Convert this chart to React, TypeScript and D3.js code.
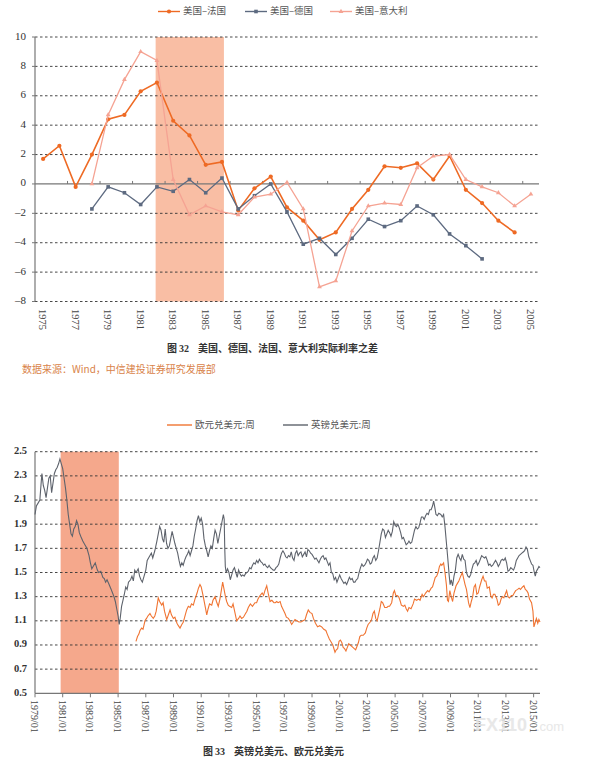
import React from 'react';
import * as d3 from 'd3';

// ---- figure 32: real rate differentials (annual) ----
const years = d3.range(1975, 2006);
const yearLabels = d3.range(1975, 2006, 2);
const rateTicks = [10, 8, 6, 4, 2, 0, -2, -4, -6, -8];

const usFrance = [1.7, 2.6, -0.2, 2.0, 4.4, 4.7, 6.3, 6.9, 4.3, 3.3, 1.3, 1.5, -1.8, -0.3, 0.5, -1.6,
  -2.5, -3.8, -3.3, -1.7, -0.4, 1.2, 1.1, 1.4, 0.3, 1.9, -0.4, -1.3, -2.5, -3.3, null];
const usGermany = [null, null, null, -1.7, -0.2, -0.6, -1.4, -0.2, -0.5, 0.3, -0.6, 0.4, -1.7, -0.8, 0.0,
  -1.9, -4.1, -3.7, -4.8, -3.7, -2.4, -2.9, -2.5, -1.5, -2.1, -3.4, -4.2, -5.1, null, null, null];
const usItaly = [null, null, null, 0.0, 4.7, 7.1, 9.0, 8.4, 0.3, -2.1, -1.5, -1.9, -2.1, -0.9, -0.7,
  0.1, -1.7, -7.0, -6.6, -3.2, -1.5, -1.3, -1.4, 1.1, 1.9, 2.0, 0.3, -0.2, -0.6, -1.5, -0.7];
const shade32 = [1982, 1986];

// ---- figure 33: GBP/USD and EUR/USD (weekly) ----
const fxTicks = [2.5, 2.3, 2.1, 1.9, 1.7, 1.5, 1.3, 1.1, 0.9, 0.7, 0.5];
const fxDateLabels = d3.range(1979, 2016, 2).map(y => `${y}/01`);
const shade33 = [1980.85, 1985.05];

const gbpUsd: [number, number][] = [
  [1979.0, 1.98], [1979.1, 2.05], [1979.2, 2.07], [1979.35, 2.1], [1979.45, 2.25], [1979.5, 2.32], [1979.6, 2.22],
  [1979.7, 2.18], [1979.8, 2.12], [1979.9, 2.2], [1980.0, 2.28], [1980.1, 2.3], [1980.2, 2.16], [1980.3, 2.24],
  [1980.4, 2.32], [1980.5, 2.35], [1980.6, 2.37], [1980.7, 2.4], [1980.8, 2.44], [1980.9, 2.4], [1981.0, 2.36],
  [1981.1, 2.28], [1981.2, 2.2], [1981.3, 2.1], [1981.4, 1.98], [1981.5, 1.9], [1981.6, 1.82], [1981.7, 1.8],
  [1981.8, 1.86], [1981.9, 1.88], [1982.0, 1.93], [1982.1, 1.9], [1982.2, 1.83], [1982.3, 1.8], [1982.45, 1.76],
  [1982.6, 1.73], [1982.75, 1.7], [1982.9, 1.64], [1983.0, 1.58], [1983.1, 1.53], [1983.25, 1.56], [1983.35, 1.58],
  [1983.5, 1.52], [1983.6, 1.5], [1983.75, 1.51], [1983.9, 1.46], [1984.0, 1.45], [1984.1, 1.42], [1984.2, 1.44],
  [1984.35, 1.4], [1984.5, 1.36], [1984.6, 1.33], [1984.7, 1.3], [1984.8, 1.26], [1984.9, 1.2], [1985.0, 1.14],
  [1985.08, 1.07], [1985.15, 1.12], [1985.25, 1.22], [1985.35, 1.27], [1985.45, 1.32], [1985.55, 1.38],
  [1985.65, 1.36], [1985.75, 1.42], [1985.9, 1.44], [1986.0, 1.47], [1986.1, 1.43], [1986.2, 1.52], [1986.3, 1.5],
  [1986.45, 1.53], [1986.55, 1.47], [1986.65, 1.44], [1986.75, 1.42], [1986.85, 1.46], [1987.0, 1.52],
  [1987.1, 1.6], [1987.25, 1.63], [1987.4, 1.66], [1987.5, 1.62], [1987.65, 1.68], [1987.8, 1.76], [1987.9, 1.82],
  [1988.0, 1.88], [1988.1, 1.85], [1988.2, 1.78], [1988.3, 1.75], [1988.4, 1.86], [1988.5, 1.74], [1988.6, 1.7],
  [1988.7, 1.72], [1988.8, 1.78], [1988.9, 1.84], [1989.0, 1.79], [1989.1, 1.74], [1989.2, 1.7], [1989.3, 1.66],
  [1989.4, 1.6], [1989.5, 1.55], [1989.6, 1.58], [1989.7, 1.56], [1989.8, 1.6], [1989.9, 1.63], [1990.0, 1.65],
  [1990.1, 1.68], [1990.2, 1.64], [1990.3, 1.68], [1990.4, 1.72], [1990.5, 1.8], [1990.6, 1.86], [1990.7, 1.93],
  [1990.8, 1.97], [1990.9, 1.92], [1991.0, 1.95], [1991.1, 1.9], [1991.2, 1.78], [1991.3, 1.72], [1991.4, 1.68],
  [1991.5, 1.63], [1991.6, 1.68], [1991.7, 1.72], [1991.8, 1.7], [1991.9, 1.78], [1992.0, 1.85], [1992.1, 1.82],
  [1992.2, 1.74], [1992.3, 1.8], [1992.4, 1.86], [1992.5, 1.92], [1992.6, 1.98], [1992.66, 1.94], [1992.7, 1.7],
  [1992.74, 1.55], [1992.8, 1.5], [1992.9, 1.53], [1993.0, 1.5], [1993.1, 1.44], [1993.2, 1.48], [1993.3, 1.52],
  [1993.4, 1.54], [1993.5, 1.5], [1993.6, 1.46], [1993.7, 1.52], [1993.8, 1.49], [1993.9, 1.47], [1994.0, 1.48],
  [1994.1, 1.47], [1994.2, 1.49], [1994.3, 1.5], [1994.4, 1.51], [1994.5, 1.54], [1994.6, 1.53], [1994.7, 1.56],
  [1994.8, 1.58], [1994.9, 1.57], [1995.0, 1.6], [1995.1, 1.58], [1995.2, 1.61], [1995.3, 1.59], [1995.4, 1.58],
  [1995.5, 1.56], [1995.6, 1.57], [1995.7, 1.55], [1995.8, 1.54], [1995.9, 1.56], [1996.0, 1.54], [1996.1, 1.53],
  [1996.2, 1.52], [1996.3, 1.52], [1996.4, 1.54], [1996.5, 1.55], [1996.6, 1.57], [1996.7, 1.62], [1996.8, 1.66],
  [1996.9, 1.68], [1997.0, 1.66], [1997.1, 1.63], [1997.2, 1.62], [1997.3, 1.64], [1997.4, 1.63], [1997.5, 1.67],
  [1997.6, 1.62], [1997.7, 1.6], [1997.8, 1.66], [1997.9, 1.68], [1998.0, 1.64], [1998.1, 1.66], [1998.2, 1.67],
  [1998.3, 1.63], [1998.4, 1.65], [1998.5, 1.67], [1998.6, 1.63], [1998.7, 1.69], [1998.8, 1.68], [1998.9, 1.66],
  [1999.0, 1.65], [1999.1, 1.63], [1999.2, 1.61], [1999.3, 1.62], [1999.4, 1.6], [1999.5, 1.58], [1999.6, 1.61],
  [1999.7, 1.63], [1999.8, 1.64], [1999.9, 1.61], [2000.0, 1.62], [2000.1, 1.59], [2000.2, 1.56], [2000.3, 1.58],
  [2000.4, 1.5], [2000.5, 1.49], [2000.6, 1.44], [2000.7, 1.46], [2000.8, 1.42], [2000.9, 1.45], [2001.0, 1.48],
  [2001.1, 1.45], [2001.2, 1.43], [2001.3, 1.41], [2001.4, 1.42], [2001.5, 1.4], [2001.6, 1.43], [2001.7, 1.46],
  [2001.8, 1.44], [2001.9, 1.45], [2002.0, 1.42], [2002.1, 1.42], [2002.2, 1.44], [2002.3, 1.45], [2002.4, 1.5],
  [2002.5, 1.54], [2002.6, 1.57], [2002.7, 1.55], [2002.8, 1.56], [2002.9, 1.58], [2003.0, 1.61], [2003.1, 1.6],
  [2003.2, 1.57], [2003.3, 1.58], [2003.4, 1.62], [2003.5, 1.64], [2003.6, 1.6], [2003.7, 1.62], [2003.8, 1.68],
  [2003.9, 1.75], [2004.0, 1.82], [2004.1, 1.86], [2004.2, 1.85], [2004.3, 1.79], [2004.4, 1.82], [2004.5, 1.85],
  [2004.6, 1.83], [2004.7, 1.8], [2004.8, 1.84], [2004.9, 1.92], [2005.0, 1.89], [2005.1, 1.88], [2005.2, 1.9],
  [2005.3, 1.87], [2005.4, 1.83], [2005.5, 1.78], [2005.6, 1.79], [2005.7, 1.76], [2005.8, 1.73], [2005.9, 1.74],
  [2006.0, 1.76], [2006.1, 1.74], [2006.2, 1.75], [2006.3, 1.8], [2006.4, 1.85], [2006.5, 1.88], [2006.6, 1.86],
  [2006.7, 1.87], [2006.8, 1.91], [2006.9, 1.96], [2007.0, 1.96], [2007.1, 1.94], [2007.2, 1.97], [2007.3, 1.99],
  [2007.4, 1.98], [2007.5, 2.02], [2007.6, 2.02], [2007.7, 2.05], [2007.78, 2.09], [2007.85, 2.05],
  [2007.95, 1.98], [2008.05, 1.97], [2008.15, 1.99], [2008.3, 1.98], [2008.4, 1.96], [2008.5, 1.98],
  [2008.6, 1.88], [2008.7, 1.75], [2008.8, 1.62], [2008.9, 1.48], [2008.97, 1.4], [2009.05, 1.44],
  [2009.15, 1.39], [2009.25, 1.47], [2009.35, 1.52], [2009.45, 1.62], [2009.55, 1.65], [2009.65, 1.62],
  [2009.75, 1.6], [2009.85, 1.65], [2009.95, 1.61], [2010.05, 1.6], [2010.15, 1.5], [2010.25, 1.47],
  [2010.35, 1.46], [2010.45, 1.48], [2010.55, 1.53], [2010.65, 1.57], [2010.75, 1.58], [2010.85, 1.6],
  [2010.95, 1.56], [2011.05, 1.58], [2011.15, 1.61], [2011.25, 1.64], [2011.35, 1.63], [2011.45, 1.62],
  [2011.55, 1.63], [2011.65, 1.6], [2011.75, 1.56], [2011.85, 1.57], [2011.95, 1.55], [2012.05, 1.56],
  [2012.15, 1.58], [2012.25, 1.6], [2012.35, 1.58], [2012.45, 1.55], [2012.55, 1.57], [2012.65, 1.6],
  [2012.75, 1.61], [2012.85, 1.6], [2012.95, 1.62], [2013.05, 1.58], [2013.15, 1.51], [2013.25, 1.52],
  [2013.35, 1.54], [2013.45, 1.53], [2013.55, 1.52], [2013.65, 1.55], [2013.75, 1.6], [2013.85, 1.62],
  [2013.95, 1.64], [2014.05, 1.65], [2014.15, 1.66], [2014.25, 1.67], [2014.35, 1.68], [2014.45, 1.71],
  [2014.55, 1.69], [2014.65, 1.63], [2014.75, 1.6], [2014.85, 1.57], [2014.95, 1.56], [2015.05, 1.5],
  [2015.12, 1.47], [2015.2, 1.51], [2015.3, 1.53], [2015.38, 1.55], [2015.46, 1.54],
];

const eurUsd: [number, number][] = [
  [1986.29, 0.93], [1986.4, 0.97], [1986.5, 0.99], [1986.58, 1.02], [1986.7, 1.04], [1986.8, 1.03],
  [1986.94, 1.1], [1987.05, 1.12], [1987.15, 1.14], [1987.3, 1.16], [1987.4, 1.14], [1987.54, 1.12],
  [1987.65, 1.14], [1987.75, 1.18], [1987.9, 1.29], [1988.0, 1.26], [1988.15, 1.23], [1988.25, 1.25],
  [1988.35, 1.18], [1988.51, 1.11], [1988.6, 1.14], [1988.75, 1.19], [1988.85, 1.15], [1988.99, 1.12],
  [1989.1, 1.13], [1989.25, 1.08], [1989.35, 1.06], [1989.47, 1.04], [1989.6, 1.07], [1989.71, 1.09],
  [1989.85, 1.15], [1989.95, 1.19], [1990.07, 1.22], [1990.2, 1.21], [1990.3, 1.24], [1990.43, 1.23],
  [1990.55, 1.28], [1990.7, 1.33], [1990.8, 1.37], [1990.91, 1.4], [1991.0, 1.38], [1991.15, 1.3],
  [1991.25, 1.24], [1991.4, 1.15], [1991.5, 1.2], [1991.6, 1.24], [1991.76, 1.23], [1991.85, 1.27],
  [1992.0, 1.3], [1992.1, 1.26], [1992.23, 1.22], [1992.35, 1.28], [1992.45, 1.35], [1992.55, 1.42],
  [1992.65, 1.36], [1992.75, 1.3], [1992.84, 1.26], [1992.95, 1.23], [1993.05, 1.22], [1993.2, 1.21],
  [1993.3, 1.24], [1993.45, 1.16], [1993.56, 1.1], [1993.7, 1.12], [1993.8, 1.14], [1993.92, 1.12],
  [1994.05, 1.13], [1994.2, 1.16], [1994.3, 1.18], [1994.4, 1.21], [1994.55, 1.24], [1994.7, 1.22],
  [1994.88, 1.25], [1995.0, 1.25], [1995.1, 1.28], [1995.25, 1.31], [1995.4, 1.33], [1995.5, 1.31],
  [1995.6, 1.35], [1995.73, 1.39], [1995.85, 1.32], [1995.97, 1.26], [1996.1, 1.27], [1996.25, 1.25],
  [1996.35, 1.25], [1996.45, 1.26], [1996.55, 1.25], [1996.7, 1.26], [1996.8, 1.22], [1996.93, 1.19],
  [1997.05, 1.16], [1997.15, 1.13], [1997.29, 1.12], [1997.4, 1.1], [1997.53, 1.07], [1997.65, 1.09],
  [1997.77, 1.11], [1997.9, 1.1], [1998.05, 1.09], [1998.2, 1.09], [1998.35, 1.1], [1998.5, 1.11],
  [1998.6, 1.15], [1998.73, 1.19], [1998.85, 1.17], [1999.0, 1.16], [1999.1, 1.12], [1999.25, 1.08],
  [1999.4, 1.05], [1999.55, 1.06], [1999.7, 1.05], [1999.85, 1.03], [2000.0, 1.02], [2000.1, 0.99],
  [2000.25, 0.95], [2000.4, 0.92], [2000.5, 0.9], [2000.66, 0.84], [2000.75, 0.86], [2000.85, 0.87],
  [2000.95, 0.93], [2001.05, 0.94], [2001.15, 0.92], [2001.25, 0.88], [2001.35, 0.87], [2001.45, 0.85],
  [2001.55, 0.88], [2001.65, 0.91], [2001.75, 0.9], [2001.85, 0.89], [2001.95, 0.88], [2002.05, 0.87],
  [2002.15, 0.86], [2002.25, 0.89], [2002.35, 0.92], [2002.45, 0.97], [2002.55, 0.98], [2002.7, 0.98],
  [2002.85, 1.0], [2002.95, 1.04], [2003.05, 1.07], [2003.2, 1.09], [2003.3, 1.11], [2003.4, 1.16],
  [2003.5, 1.18], [2003.6, 1.12], [2003.7, 1.1], [2003.8, 1.15], [2003.9, 1.2], [2004.0, 1.26],
  [2004.1, 1.25], [2004.25, 1.21], [2004.4, 1.21], [2004.5, 1.22], [2004.6, 1.22], [2004.75, 1.25],
  [2004.87, 1.33], [2004.95, 1.35], [2005.05, 1.31], [2005.15, 1.31], [2005.25, 1.3], [2005.35, 1.27],
  [2005.45, 1.23], [2005.6, 1.22], [2005.7, 1.23], [2005.8, 1.2], [2005.9, 1.18], [2006.0, 1.21],
  [2006.15, 1.2], [2006.3, 1.24], [2006.4, 1.28], [2006.55, 1.27], [2006.7, 1.28], [2006.8, 1.27],
  [2006.95, 1.32], [2007.05, 1.3], [2007.2, 1.33], [2007.35, 1.35], [2007.45, 1.34], [2007.6, 1.37],
  [2007.7, 1.38], [2007.8, 1.42], [2007.9, 1.46], [2008.0, 1.47], [2008.1, 1.5], [2008.2, 1.55],
  [2008.3, 1.57], [2008.37, 1.56], [2008.5, 1.58], [2008.6, 1.5], [2008.7, 1.4], [2008.78, 1.27],
  [2008.85, 1.26], [2008.95, 1.35], [2009.05, 1.3], [2009.15, 1.26], [2009.25, 1.33], [2009.4, 1.39],
  [2009.5, 1.41], [2009.6, 1.43], [2009.7, 1.46], [2009.85, 1.5], [2009.95, 1.45], [2010.05, 1.4],
  [2010.15, 1.36], [2010.3, 1.25], [2010.4, 1.21], [2010.5, 1.26], [2010.6, 1.3], [2010.7, 1.38],
  [2010.8, 1.4], [2010.9, 1.32], [2011.0, 1.33], [2011.1, 1.38], [2011.25, 1.44], [2011.35, 1.47],
  [2011.45, 1.43], [2011.55, 1.43], [2011.65, 1.37], [2011.8, 1.38], [2011.9, 1.31], [2012.0, 1.29],
  [2012.1, 1.32], [2012.2, 1.32], [2012.35, 1.28], [2012.45, 1.23], [2012.55, 1.24], [2012.65, 1.28],
  [2012.75, 1.3], [2012.85, 1.29], [2012.95, 1.32], [2013.05, 1.35], [2013.15, 1.3], [2013.25, 1.29],
  [2013.4, 1.31], [2013.5, 1.31], [2013.6, 1.33], [2013.7, 1.35], [2013.85, 1.36], [2013.95, 1.37],
  [2014.05, 1.36], [2014.2, 1.38], [2014.3, 1.39], [2014.4, 1.36], [2014.5, 1.35], [2014.6, 1.33],
  [2014.7, 1.28], [2014.85, 1.25], [2014.95, 1.18], [2015.02, 1.05], [2015.1, 1.08], [2015.2, 1.12],
  [2015.3, 1.08], [2015.38, 1.11], [2015.46, 1.09],
];

const C_FR = '#ee6a24';
const C_DE = '#5d6a80';
const C_IT = '#f5a393';
const C_EUR = '#f07432';
const C_GBP = '#5e636c';
const SERIF = '"Liberation Serif", "DejaVu Serif", serif';
const CJK = '"Noto Sans CJK SC", "Noto Sans", sans-serif';

function Marker({ kind, x, y, color }: { kind: string; x: number; y: number; color: string }) {
  if (kind === 'circle') return <circle cx={x} cy={y} r={2.1} fill={color} />;
  if (kind === 'square') return <rect x={x - 1.8} y={y - 1.8} width={3.6} height={3.6} fill={color} />;
  return <path d={d3.symbol(d3.symbolTriangle, 10)()!} transform={`translate(${x},${y})`} fill={color} />;
}

function RateChart() {
  const x = d3.scaleBand<number>().domain(years).range([35, 539]);
  const y = d3.scaleLinear().domain([-8, 10]).range([301.5, 37]);
  const cx = (yr: number) => (x(yr) ?? 0) + x.bandwidth() / 2;
  const series = [
    { name: '美国–法国', data: usFrance, color: C_FR, kind: 'circle', w: 1.6, lx: 158 },
    { name: '美国–德国', data: usGermany, color: C_DE, kind: 'square', w: 1.3, lx: 245 },
    { name: '美国–意大利', data: usItaly, color: C_IT, kind: 'triangle', w: 1.3, lx: 330 },
  ];
  const line = d3.line<number | null>()
    .defined(d => d != null)
    .x((_, i) => cx(years[i]))
    .y(d => y(d as number));
  const boundaryTicks = d3.range(2, years.length, 2).map(k => 35 + k * x.bandwidth());
  // shaded band runs slightly past the 1982 and 1986 points
  const shadeL = cx(shade32[0]) - x.bandwidth() * 0.08;
  const shadeR = cx(shade32[1]) + x.bandwidth() * 0.12;

  return (
    <g>
      {series.map(s => (
        <g key={s.name}>
          <line x1={s.lx} x2={s.lx + 22} y1={11.5} y2={11.5} stroke={s.color} strokeWidth={1.4} />
          <Marker kind={s.kind} x={s.lx + 11} y={11.5} color={s.color} />
          <text x={s.lx + 25} y={11.5} dominantBaseline="middle" fontFamily={CJK} fontSize={9.5} fill="#555">{s.name}</text>
        </g>
      ))}
      <rect x={shadeL} y={y(10)} width={shadeR - shadeL} height={y(-8) - y(10)} fill="#f9bea4" />
      {rateTicks.filter(t => t !== 0).map(t => (
        <line key={t} x1={35} x2={539} y1={y(t)} y2={y(t)} stroke="#333" strokeWidth={0.9} strokeDasharray="2.5,2.5" />
      ))}
      <line x1={35} x2={539} y1={y(0)} y2={y(0)} stroke="#777" strokeWidth={1.3} />
      {boundaryTicks.map(t => (
        <line key={t} x1={t} x2={t} y1={y(0)} y2={y(0) - 3} stroke="#777" strokeWidth={1} />
      ))}
      <line x1={35} x2={35} y1={y(10)} y2={y(-8)} stroke="#777" strokeWidth={1.2} />
      {rateTicks.map(t => (
        <g key={t}>
          <line x1={32} x2={35} y1={y(t)} y2={y(t)} stroke="#777" strokeWidth={1} />
          <text x={26} y={y(t)} textAnchor="end" dominantBaseline="middle" fontFamily={SERIF} fontSize={11} fill="#333">
            {t < 0 ? `–${-t}` : t}
          </text>
        </g>
      ))}
      {yearLabels.map(yr => (
        <text key={yr} transform={`translate(${cx(yr) - 4},${309}) rotate(90)`} fontFamily={SERIF} fontSize={10.5} fill="#444">{yr}</text>
      ))}
      {series.map(s => (
        <g key={s.name}>
          <path d={line(s.data) ?? ''} fill="none" stroke={s.color} strokeWidth={s.w} />
          {s.data.map((v, i) => v == null ? null : <Marker key={i} kind={s.kind} x={cx(years[i])} y={y(v)} color={s.color} />)}
        </g>
      ))}
      <text x={167} y={352} fontFamily={CJK} fontSize={10} fontWeight={700} fill="#333">
        <tspan>图</tspan><tspan fontFamily={SERIF} dx={2}>32</tspan><tspan dx={9}>美国、德国、法国、意大利实际利率之差</tspan>
      </text>
      <text x={22} y={373} fontFamily={CJK} fontSize={10} fill="#d9834a">数据来源：Wind，中信建投证券研究发展部</text>
    </g>
  );
}

function FxChart() {
  const x = d3.scaleLinear().domain([1979, 2015.46]).range([35, 540]);
  const y = d3.scaleLinear().domain([0.5, 2.5]).range([693.3, 451.7]);
  const line = d3.line<[number, number]>().x(d => x(d[0])).y(d => y(d[1]));
  const labelYears = fxDateLabels.map(s => +s.slice(0, 4));

  return (
    <g>
      <line x1={167} x2={192} y1={425} y2={425} stroke={C_EUR} strokeWidth={1.4} />
      <text x={195} y={425} dominantBaseline="middle" fontFamily={CJK} fontSize={9.5} fill="#555">欧元兑美元:周</text>
      <line x1={283} x2={308} y1={425} y2={425} stroke={C_GBP} strokeWidth={1.4} />
      <text x={311} y={425} dominantBaseline="middle" fontFamily={CJK} fontSize={9.5} fill="#555">英镑兑美元:周</text>

      <rect x={x(shade33[0])} y={y(2.5)} width={x(shade33[1]) - x(shade33[0])} height={y(0.5) - y(2.5)} fill="#f5a88c" />
      {fxTicks.filter(t => t !== 0.5).map(t => (
        <line key={t} x1={35} x2={540} y1={y(t)} y2={y(t)} stroke="#333" strokeWidth={0.9} strokeDasharray="2.5,2.5" />
      ))}
      <line x1={35} x2={540} y1={y(0.5)} y2={y(0.5)} stroke="#777" strokeWidth={1.3} />
      <line x1={35} x2={35} y1={y(2.5)} y2={y(0.5)} stroke="#777" strokeWidth={1.2} />
      {labelYears.map(yr => (
        <line key={yr} x1={x(yr)} x2={x(yr)} y1={y(0.5)} y2={y(0.5) + 4} stroke="#777" strokeWidth={1} />
      ))}
      {fxTicks.map(t => (
        <text key={t} x={27} y={y(t)} textAnchor="end" dominantBaseline="middle" fontFamily={SERIF} fontSize={10.5} fontWeight={700} fill="#333">
          {t.toFixed(1)}
        </text>
      ))}
      {fxDateLabels.map((s, i) => (
        <text key={s} transform={`translate(${x(labelYears[i]) - 4},${700}) rotate(90)`} fontFamily={SERIF} fontSize={10} fill="#444">{s}</text>
      ))}
      <path d={line(gbpUsd) ?? ''} fill="none" stroke={C_GBP} strokeWidth={1.1} />
      <path d={line(eurUsd) ?? ''} fill="none" stroke={C_EUR} strokeWidth={1.1} />

      <text x={475} y={731} fontFamily='"Liberation Sans", sans-serif' fontSize={18} fontWeight={700} fill="#e4e4e4" opacity={0.85}>FX110</text>
      <text x={536} y={731} fontFamily='"Liberation Sans", sans-serif' fontSize={13} fill="#e4e4e4" opacity={0.85}>.com</text>

      <text x={203} y={755} fontFamily={CJK} fontSize={10} fontWeight={700} fill="#333">
        <tspan>图</tspan><tspan fontFamily={SERIF} dx={2}>33</tspan><tspan dx={9}>英镑兑美元、欧元兑美元</tspan>
      </text>
    </g>
  );
}

export default function App() {
  return (
    <svg width={596} height={761} style={{ position: 'absolute', left: 0, top: 0, background: '#fff' }}>
      <RateChart />
      <FxChart />
    </svg>
  );
}
